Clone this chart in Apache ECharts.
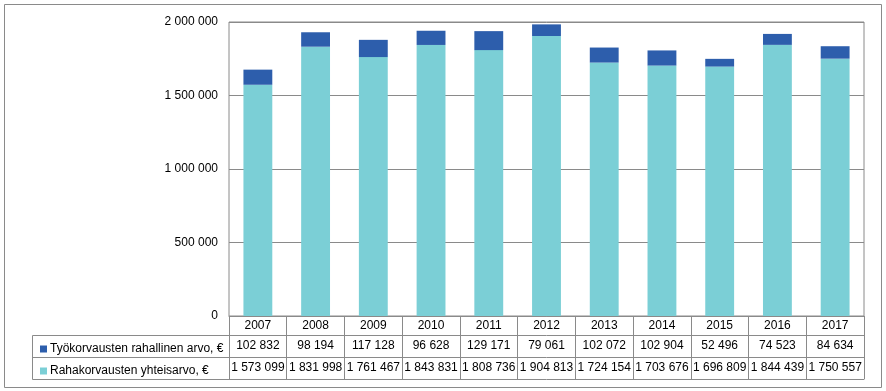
<!DOCTYPE html>
<html>
<head>
<meta charset="utf-8">
<script src="https://cdn.jsdelivr.net/npm/echarts@6/dist/echarts.min.js"></script>
<style>
html,body{margin:0;padding:0;background:#fff;}
#chart{width:886px;height:391px;}
</style>
</head>
<body>
<div id="chart"></div>
<script>
const years = ['2007','2008','2009','2010','2011','2012','2013','2014','2015','2016','2017'];
const tyokorvaus = [102832, 98194, 117128, 96628, 129171, 79061, 102072, 102904, 52496, 74523, 84634];
const rahakorvaus = [1573099, 1831998, 1761467, 1843831, 1808736, 1904813, 1724154, 1703676, 1696809, 1844439, 1750557];
const nameTyo = 'Työkorvausten rahallinen arvo, €';
const nameRaha = 'Rahakorvausten yhteisarvo, €';
const yTicks = [0, 500000, 1000000, 1500000, 2000000];

const fmt = v => String(v).replace(/\B(?=(\d{3})+(?!\d))/g, ' ');
const FONT = 'Liberation Sans';
const GRAY = '#8a8a8a';
const txt = {fontFamily: FONT, fontSize: 12, color: '#000'};

const chart = echarts.init(document.getElementById('chart'));

function rowAxis(offset, values) {
  return {
    type: 'category', data: years, gridIndex: 0, position: 'bottom', offset: offset,
    axisLine: {show: true, lineStyle: {color: GRAY, width: 1}},
    axisTick: {show: false},
    axisLabel: values ? Object.assign({interval: 0, margin: 5, formatter: (v, i) => fmt(values[i])}, txt) : {show: false},
    splitLine: {show: false}
  };
}

chart.setOption({
  animation: false,
  backgroundColor: '#fff',
  grid: {left: 229, right: 22, top: 22, bottom: 75, show: true, borderColor: GRAY, borderWidth: 1, containLabel: false},
  legend: {
    orient: 'vertical', left: 35, top: 337,
    data: [nameTyo, nameRaha],
    icon: 'rect', itemWidth: 7, itemHeight: 7, itemGap: 8,
    textStyle: Object.assign({lineHeight: 14, padding: [0,0,0,-2]}, txt),
    selectedMode: false
  },
  xAxis: [
    {
      type: 'category', data: years, position: 'bottom',
      axisLine: {show: true, lineStyle: {color: GRAY}},
      axisTick: {show: true, length: 63, lineStyle: {color: GRAY}},
      axisLabel: Object.assign({interval: 0, margin: 4}, txt),
      splitLine: {show: false}
    },
    rowAxis(19, tyokorvaus),
    rowAxis(41, rahakorvaus),
    rowAxis(63, null)
  ],
  yAxis: {
    type: 'value', min: yTicks[0], max: yTicks[yTicks.length - 1], interval: yTicks[1] - yTicks[0],
    axisLine: {show: false}, axisTick: {show: false},
    axisLabel: Object.assign({margin: 11, formatter: v => fmt(v)}, txt),
    splitLine: {show: true, lineStyle: {color: GRAY, width: 1}}
  },
  series: [
    {name: nameRaha, type: 'bar', stack: 'a', data: rahakorvaus, barWidth: '50%', itemStyle: {color: '#7BCFD6'}},
    {name: nameTyo, type: 'bar', stack: 'a', data: tyokorvaus, barWidth: '50%', itemStyle: {color: '#2D5EAC'}}
  ],
  graphic: [
    {type: 'rect', shape: {x: 4.5, y: 4.5, width: 877, height: 383}, style: {fill: null, stroke: GRAY, lineWidth: 1}, silent: true, z: -1},
    {type: 'rect', shape: {x: 32.5, y: 335.5, width: 197, height: 44}, style: {fill: null, stroke: GRAY, lineWidth: 1}, silent: true},
    {type: 'line', shape: {x1: 32.5, y1: 357.5, x2: 229.5, y2: 357.5}, style: {stroke: GRAY, lineWidth: 1}, silent: true}
  ]
});
</script>
</body>
</html>
